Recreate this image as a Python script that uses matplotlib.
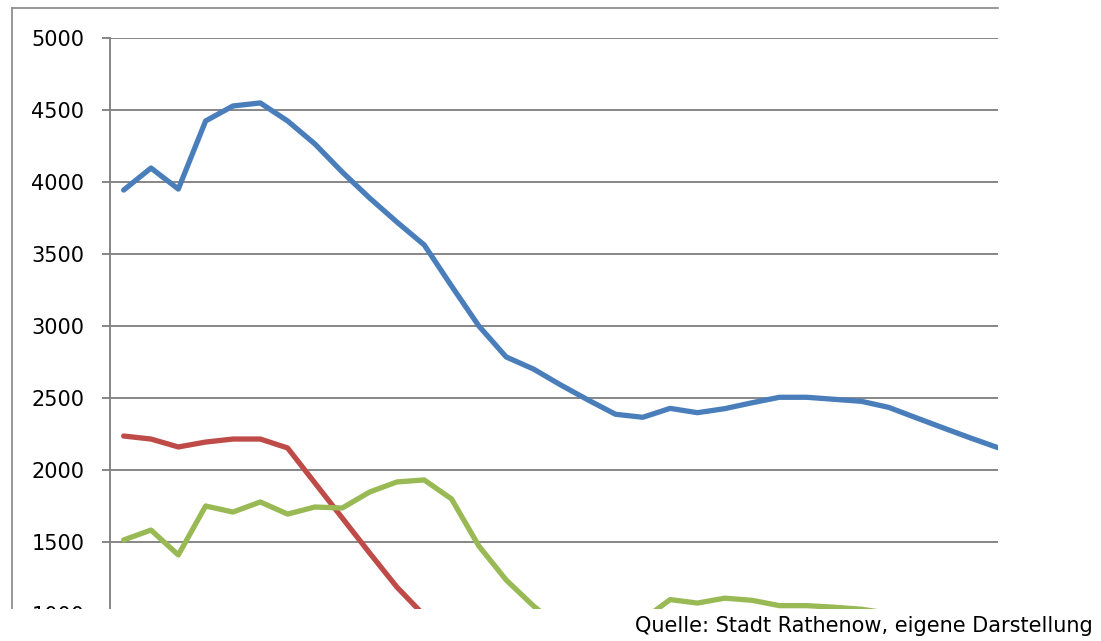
import numpy as np
import matplotlib
matplotlib.use("Agg")
import matplotlib.pyplot as plt
from matplotlib.patches import Rectangle
from matplotlib.lines import Line2D

nan = np.nan

# one value per year (33 categories); nan = outside the visible area
blue = [3944, 4097, 3951, 4424, 4528, 4549, 4424, 4264, 4069, 3889, 3722,
        3563, 3278, 3000, 2785, 2701, 2590, 2486, 2387, 2366, 2428, 2398,
        2426, 2467, 2505, 2505, 2491, 2477, 2435, 2363, 2292, 2222, 2155]
red = [2236, 2215, 2160, 2194, 2215, 2215, 2153, 1910, 1667, 1424, 1187,
       990] + [nan] * 21
green = [1514, 1583, 1410, 1750, 1708, 1778, 1694, 1743, 1736, 1847, 1917,
         1931, 1799, 1472, 1236, 1056, 900, nan, nan, 960, 1100, 1076,
         1110, 1095, 1058, 1058, 1047, 1033, 1005, 950, nan, nan, nan]
yticks = [1000, 1500, 2000, 2500, 3000, 3500, 4000, 4500, 5000]
caption = "Quelle: Stadt Rathenow, eigene Darstellung"

W, H = 1101, 641
fig = plt.figure(figsize=(W / 100, H / 100), dpi=100)
ax = fig.add_axes([110 / W, 1 - 614 / H, (998 - 110) / W, (614 - 38) / H])

x = np.arange(len(blue))
gray = "#868686"
for vals, col in [(blue, "#4A7EBB"), (red, "#BE4B48"), (green, "#98B954")]:
    ax.plot(x, vals, color=col, lw=3.8, solid_joinstyle="round",
            solid_capstyle="round", zorder=3)

ax.set_xlim(-0.5, 32)
ax.set_ylim(1000, 5000)
ax.set_yticks(yticks)
ax.set_xticks([])
ax.yaxis.grid(True, color=gray, lw=1.4)
ax.set_axisbelow(True)
for s in ["top", "right", "bottom"]:
    ax.spines[s].set_visible(False)
ax.spines["left"].set_color(gray)
ax.spines["left"].set_linewidth(1.4)
ax.tick_params(axis="y", length=5.5, width=1.4, color=gray, pad=13,
               labelsize=15, labelcolor="black")

# outer chart frame (left and top edges only, rest is cropped)
fig.add_artist(Line2D([12 / W, 12 / W], [0, 1 - 8 / H], transform=fig.transFigure,
                      color=gray, lw=1.2))
fig.add_artist(Line2D([12 / W, 998 / W], [1 - 8 / H, 1 - 8 / H],
                      transform=fig.transFigure, color=gray, lw=1.2))

# cropped bottom of the chart
fig.add_artist(Rectangle((0, 0), 1, (H - 609) / H, transform=fig.transFigure,
                         facecolor="white", edgecolor="none", zorder=10))
fig.text(1093 / W, 1 - 626 / H, caption, ha="right", va="center",
         fontsize=15, zorder=11)

fig.savefig("out.png", dpi=100)
